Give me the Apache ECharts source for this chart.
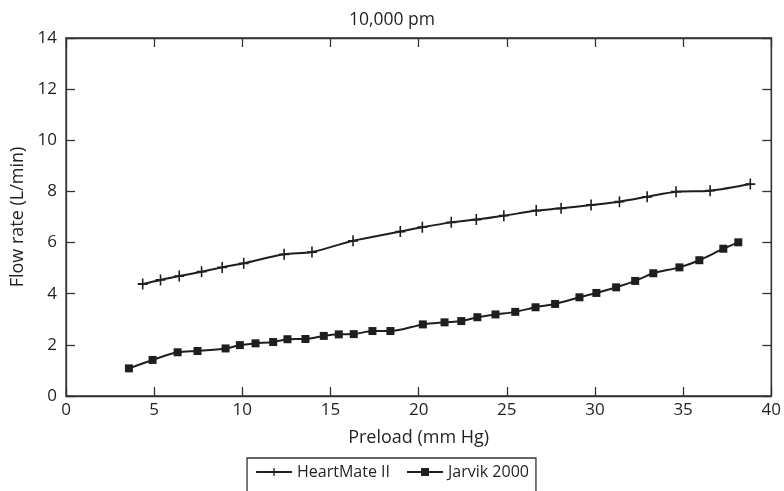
<!DOCTYPE html>
<html>
<head>
<meta charset="utf-8">
<script src="https://cdn.jsdelivr.net/npm/echarts@6/dist/echarts.min.js"></script>
<style>
html,body{margin:0;padding:0;background:#fff;}
#chart{width:784px;height:491px;}
</style>
</head>
<body>
<div id="chart"></div>
<script>
var titleText = '10,000 pm';
var xName = 'Preload (mm Hg)';
var yName = 'Flow rate (L/min)';
var seriesNames = ['HeartMate II', 'Jarvik 2000'];

var heartMateX = [4.35, 5.36, 6.42, 7.69, 8.86, 10.08, 12.37, 13.95, 16.28, 18.96, 20.21, 21.85, 23.27, 24.83, 26.67, 28.08, 29.78, 31.39, 32.96, 34.60, 36.53, 38.81];
var heartMateY = [4.38, 4.54, 4.69, 4.86, 5.03, 5.19, 5.54, 5.63, 6.07, 6.43, 6.60, 6.79, 6.90, 7.05, 7.25, 7.34, 7.47, 7.60, 7.79, 7.99, 8.03, 8.29];

var jarvikX = [3.57, 4.91, 6.33, 7.46, 9.05, 9.86, 10.75, 11.75, 12.56, 13.58, 14.62, 15.47, 16.32, 17.38, 18.40, 20.24, 21.47, 22.42, 23.33, 24.36, 25.48, 26.63, 27.74, 29.12, 30.08, 31.20, 32.28, 33.31, 34.79, 35.92, 37.28, 38.13];
var jarvikY = [1.08, 1.41, 1.71, 1.76, 1.86, 1.99, 2.06, 2.11, 2.22, 2.23, 2.35, 2.41, 2.42, 2.54, 2.54, 2.80, 2.88, 2.93, 3.08, 3.19, 3.29, 3.47, 3.60, 3.86, 4.03, 4.25, 4.50, 4.80, 5.03, 5.31, 5.76, 6.01];

function zip(xs, ys) { return xs.map(function (x, i) { return [x, ys[i]]; }); }

var plusPath = 'path://M0,4.2H10V5.8H0Z M4.2,0H5.8V10H4.2Z';
var FONT = 'Open Sans';
var TXT = '#231f20';
var AX = '#333';

var chart = echarts.init(document.getElementById('chart'));
function baseAxis() {
  return {
    axisLine: { show: true, onZero: false, lineStyle: { color: AX, width: 1.3 } },
    axisTick: { show: true, inside: true, length: 9, lineStyle: { color: AX, width: 1.3 } },
    splitLine: { show: false }
  };
}
chart.setOption({
  animation: false,
  backgroundColor: '#fff',
  title: {
    text: titleText, left: 'center', top: 6,
    textStyle: { fontFamily: FONT, fontSize: 17.5, fontWeight: 'normal', color: TXT }
  },
  grid: { left: 66, right: 12, top: 38, bottom: 95, show: true, borderColor: AX, borderWidth: 1.3 },
  legend: {
    top: 458, left: 'center',
    data: seriesNames,
    itemWidth: 36, itemHeight: 10, itemGap: 16,
    borderColor: AX, borderWidth: 1.3,
    padding: [6, 7, 14, 8],
    textStyle: { fontFamily: FONT, fontSize: 16, color: TXT }
  },
  xAxis: [
    Object.assign(baseAxis(), {
      type: 'value', min: 0, max: 40, interval: 5, position: 'bottom',
      name: xName, nameLocation: 'middle', nameGap: 33,
      nameTextStyle: { fontFamily: FONT, fontSize: 18, color: TXT },
      axisLabel: { fontFamily: FONT, fontSize: 17, color: TXT, margin: 6 }
    }),
    Object.assign(baseAxis(), {
      type: 'value', min: 0, max: 40, interval: 5, position: 'top',
      axisLabel: { show: false }
    })
  ],
  yAxis: [
    Object.assign(baseAxis(), {
      type: 'value', min: 0, max: 14, interval: 2, position: 'left',
      name: yName, nameLocation: 'middle', nameGap: 35,
      nameTextStyle: { fontFamily: FONT, fontSize: 18, color: TXT },
      axisLabel: { fontFamily: FONT, fontSize: 17, color: TXT, margin: 9 }
    }),
    Object.assign(baseAxis(), {
      type: 'value', min: 0, max: 14, interval: 2, position: 'right', offset: 0,
      axisLabel: { show: false }
    })
  ],
  series: [
    {
      name: seriesNames[0], type: 'line', data: zip(heartMateX, heartMateY),
      smooth: 0.3, symbol: plusPath, symbolSize: [10, 11],
      lineStyle: { color: '#1e1e1e', width: 2 },
      itemStyle: { color: '#1e1e1e' }
    },
    {
      name: seriesNames[1], type: 'line', data: zip(jarvikX, jarvikY),
      smooth: 0.3, symbol: 'rect', symbolSize: 8,
      lineStyle: { color: '#1e1e1e', width: 2 },
      itemStyle: { color: '#1e1e1e' }
    }
  ]
});
</script>
</body>
</html>
